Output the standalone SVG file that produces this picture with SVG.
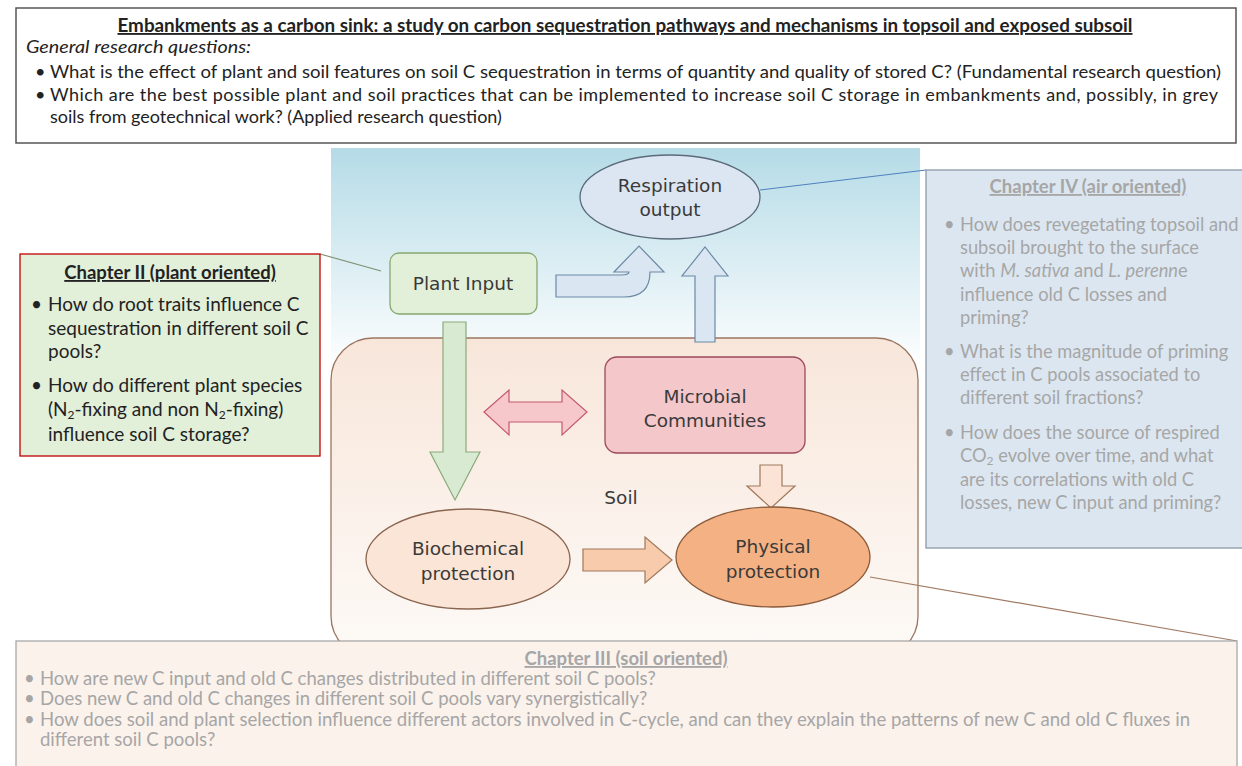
<svg xmlns="http://www.w3.org/2000/svg" width="1242" height="766" viewBox="0 0 1242 766">
<defs>
<linearGradient id="sky" x1="0" y1="0" x2="0" y2="1">
<stop offset="0" stop-color="#b5dbe7"/>
<stop offset="0.45" stop-color="#ffffff"/>
<stop offset="1" stop-color="#ffffff"/>
</linearGradient>
<linearGradient id="soilg" x1="0" y1="0" x2="0" y2="1">
<stop offset="0" stop-color="#f8e6da"/>
<stop offset="1" stop-color="#fdfaf7"/>
</linearGradient>
<style>
.q{font-family:Lato,"Liberation Sans",sans-serif;font-size:18px;fill:#222}
.q2{font-family:Lato,"Liberation Sans",sans-serif;font-size:19px;fill:#222}
.qb{font-family:Lato,"Liberation Sans",sans-serif;font-size:18.5px;font-weight:bold;fill:#222;text-decoration:underline}
.g{font-family:Lato,"Liberation Sans",sans-serif;font-size:18.3px;fill:#a6a6a6}
.gb{font-family:Lato,"Liberation Sans",sans-serif;font-size:18.5px;font-weight:bold;fill:#a6a6a6;text-decoration:underline}
.c3{font-family:Lato,"Liberation Sans",sans-serif;font-size:18.5px;fill:#a6a6a6}
.n{font-family:"DejaVu Sans",sans-serif;font-size:18.5px;fill:#3a3a3a;text-anchor:middle}
.con{fill:none;stroke-width:1.2}
</style>
</defs>
<rect width="1242" height="766" fill="#ffffff"/>

<g id="header">
<rect x="16" y="8" width="1220" height="135" fill="#ffffff" stroke="#555" stroke-width="1.5"/>
<text class="qb" x="625" y="32" text-anchor="middle" textLength="1015" lengthAdjust="spacingAndGlyphs">Embankments as a carbon sink: a study on carbon sequestration pathways and mechanisms in topsoil and exposed subsoil</text>
<text class="q" x="26" y="53" font-style="italic" textLength="225" lengthAdjust="spacingAndGlyphs">General research questions:</text>
<text class="q" x="35" y="78">•</text>
<text class="q" x="50" y="78" textLength="1171" lengthAdjust="spacingAndGlyphs">What is the effect of plant and soil features on soil C sequestration in terms of quantity and quality of stored C? (Fundamental research question)</text>
<text class="q" x="35" y="101">•</text>
<text class="q" x="50" y="101" textLength="1168" lengthAdjust="spacing">Which are the best possible plant and soil practices that can be implemented to increase soil C storage in embankments and, possibly, in grey</text>
<text class="q" x="50" y="123">soils from geotechnical work?  (Applied research question)</text>
</g>

<g id="background">
<rect x="331" y="148" width="589" height="495" fill="url(#sky)"/>
</g>

<g id="soil">
<rect x="331" y="338" width="587" height="320" rx="42" ry="42" fill="url(#soilg)" stroke="#9b7560" stroke-width="1.3"/>
<text class="n" x="621" y="504" font-size="19">Soil</text>
</g>

<g id="connectors">
<line class="con" x1="320" y1="254" x2="381" y2="271" stroke="#7f8f72"/>
<line class="con" x1="760" y1="190" x2="926" y2="170" stroke="#4f81bd"/>
<line class="con" x1="870" y1="577" x2="1237" y2="641" stroke="#a07a62"/>
<path d="M443,322 L466,322 L466,452 L480,452 L455,500 L430,452 L443,452 Z" fill="#d9ead3" stroke="#8aab7a" stroke-width="1.2"/>
<path d="M556,275 L621,275 Q629,275 629,272 L614,272 L639,246 L664,272 L650,272 Q650,297 624,297 L556,297 Z" fill="#dae6f2" stroke="#6c8aa6" stroke-width="1.2"/>
<path d="M695,342 L695,276 L682,276 L705,247 L728,276 L715,276 L715,342 Z" fill="#dae6f2" stroke="#6c8aa6" stroke-width="1.2"/>
<path d="M484,412 L509,390 L509,402 L562,402 L562,390 L587,412 L562,435 L562,422 L509,422 L509,435 Z" fill="#f6c8cc" stroke="#c4586e" stroke-width="1.2"/>
<path d="M760,465 L782,465 L782,486 L795,486 L771,508 L747,486 L760,486 Z" fill="#fbe4d5" stroke="#a0785c" stroke-width="1.2"/>
<path d="M583,549 L645,549 L645,537 L672,560 L645,583 L645,571 L583,571 Z" fill="#f8cbad" stroke="#a0785c" stroke-width="1.2"/>
</g>

<g id="respiration">
<ellipse cx="670" cy="197" rx="90" ry="42" fill="#dce6f2" stroke="#5b6b7c" stroke-width="1.3"/>
<text class="n" x="670" y="192">Respiration</text>
<text class="n" x="670" y="216">output</text>
</g>

<g id="plant-input">
<rect x="390" y="253" width="147" height="61" rx="9" fill="#e2efd9" stroke="#86a86e" stroke-width="1.3"/>
<text class="n" x="463" y="290">Plant Input</text>
</g>

<g id="microbial">
<rect x="605" y="357" width="200" height="96" rx="12" fill="#f4c7ca" stroke="#9c4a5a" stroke-width="1.3"/>
<text class="n" x="705" y="403">Microbial</text>
<text class="n" x="705" y="427">Communities</text>
</g>

<g id="biochemical">
<ellipse cx="468" cy="559" rx="102" ry="50" fill="#fbe5d6" stroke="#8a6550" stroke-width="1.3"/>
<text class="n" x="468" y="555">Biochemical</text>
<text class="n" x="468" y="580">protection</text>
</g>

<g id="physical">
<ellipse cx="773" cy="557" rx="97" ry="50" fill="#f4b183" stroke="#8a5a3a" stroke-width="1.3"/>
<text class="n" x="773" y="553">Physical</text>
<text class="n" x="773" y="578">protection</text>
</g>

<g id="chapter2">
<rect x="20" y="254" width="300" height="202" fill="#e2efd9" stroke="#c00000" stroke-width="1.3"/>
<text class="qb" x="170" y="279" text-anchor="middle">Chapter II (plant oriented)</text>
<text class="q2" x="31" y="311">•</text>
<text class="q2" x="48" y="311">How do root traits influence C</text>
<text class="q2" x="48" y="335">sequestration in different soil C</text>
<text class="q2" x="48" y="358">pools?</text>
<text class="q2" x="31" y="392">•</text>
<text class="q2" x="48" y="392">How do different plant species</text>
<text class="q2" x="48" y="416">(N<tspan font-size="12" dy="3">2</tspan><tspan dy="-3">-fixing and non N</tspan><tspan font-size="12" dy="3">2</tspan><tspan dy="-3">-fixing)</tspan></text>
<text class="q2" x="48" y="441">influence soil C storage?</text>
</g>

<g id="chapter4">
<rect x="926" y="170" width="330" height="378" fill="#dce6f1" stroke="#8d9aa8" stroke-width="1.3"/>
<text class="gb" x="1088" y="193" text-anchor="middle">Chapter  IV (air oriented)</text>
<text class="g" x="944" y="231">•</text>
<text class="g" x="960" y="231">How does revegetating topsoil and</text>
<text class="g" x="960" y="254">subsoil brought to the surface</text>
<text class="g" x="960" y="277">with <tspan font-style="italic">M. sativa</tspan> and <tspan font-style="italic">L. perenn</tspan>e</text>
<text class="g" x="960" y="301">influence old C losses and</text>
<text class="g" x="960" y="324">priming?</text>
<text class="g" x="944" y="358">•</text>
<text class="g" x="960" y="358">What is the magnitude of priming</text>
<text class="g" x="960" y="381">effect in C pools associated to</text>
<text class="g" x="960" y="404">different soil fractions?</text>
<text class="g" x="944" y="439">•</text>
<text class="g" x="960" y="439">How does the source of respired</text>
<text class="g" x="960" y="462">CO<tspan font-size="12" dy="3">2</tspan><tspan dy="-3"> evolve over time, and what</tspan></text>
<text class="g" x="960" y="486">are its correlations with old C</text>
<text class="g" x="960" y="509">losses, new C input and priming?</text>
</g>

<g id="chapter3">
<rect x="16" y="641" width="1221" height="140" fill="#fbf2ec" stroke="#a8a8a8" stroke-width="1.3"/>
<text class="gb" x="626" y="665" text-anchor="middle">Chapter III (soil oriented)</text>
<text class="c3" x="24" y="685">•</text>
<text class="c3" x="40" y="685">How are new C input and old C changes distributed in different soil C pools?</text>
<text class="c3" x="24" y="705">•</text>
<text class="c3" x="40" y="705">Does new C and old C changes in different soil C pools vary synergistically?</text>
<text class="c3" x="24" y="726">•</text>
<text class="c3" x="40" y="726" textLength="1150" lengthAdjust="spacingAndGlyphs">How does soil and plant selection influence different actors involved in C-cycle, and can they explain the patterns of new C and old C fluxes in</text>
<text class="c3" x="40" y="746">different soil C pools?</text>
</g>
</svg>
